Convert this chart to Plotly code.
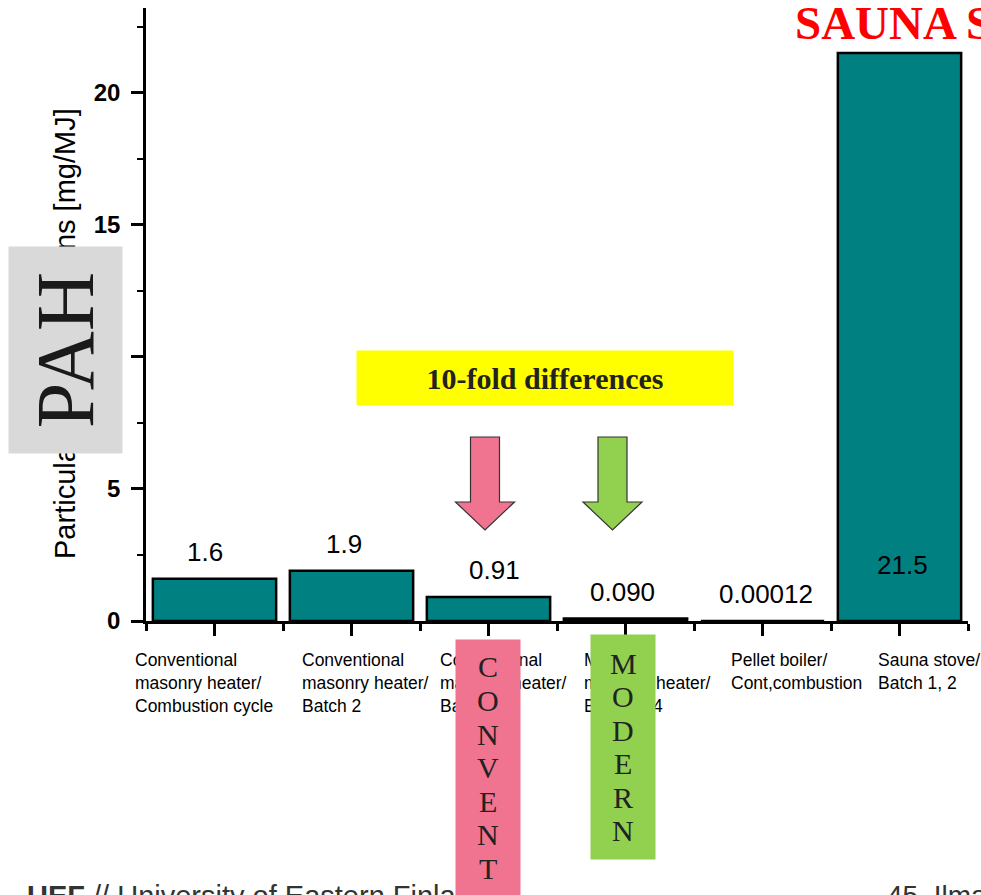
import plotly.graph_objects as go

# Emission data per appliance / combustion mode
categories = [
    "Conventional<br>masonry heater/<br>Combustion cycle",
    "Conventional<br>masonry heater/<br>Batch 2",
    "Conventional<br>masonry heater/<br>Batch 3",
    "Modern<br>masonry heater/<br>Batch 3, 4",
    "Pellet boiler/<br>Cont,combustion",
    "Sauna stove/<br>Batch 1, 2",
]
value_labels = ["1.6", "1.9", "0.91", "0.090", "0.00012", "21.5"]
values = [float(s) for s in value_labels]
y_ticks = [0, 5, 10, 15, 20]

# Layout geometry (pixels)
W, H = 981, 895
L, R, T, B = 146, 13, 8, 274
PW, PH = W - L - R, H - T - B

SANS = "Liberation Sans, Arial, sans-serif"
SERIF = "Liberation Serif, Times New Roman, serif"
TEAL = "#008080"
PINK = "#f07490"
GREEN = "#92d050"


def px(x):
    return (x - L) / PW


def py(y):
    return (H - B - y) / PH


idx = list(range(len(categories)))

fig = go.Figure(
    go.Bar(
        x=idx,
        y=values,
        width=0.9,
        marker=dict(color=TEAL, line=dict(color="black", width=2.5)),
        hoverinfo="skip",
    )
)

ann = []

# Value labels above bars (sauna stove value sits inside its bar)
label_dx = [-10, -8, 6, -3, 3, 3]
for i, (v, s) in enumerate(zip(values, value_labels)):
    inside = v > 20
    ann.append(dict(
        x=i, y=0 if inside else v, xref="x", yref="y",
        text=s, showarrow=False, xanchor="center", yanchor="middle",
        xshift=label_dx[i], yshift=56 if inside else 27,
        font=dict(family=SANS, size=26, color="black"),
    ))

# Category labels, left aligned under each tick
cat_dx = [-81.5, -51.5, -50.5, -43.5, -33.5, -23.5]
for i, c in enumerate(categories):
    ann.append(dict(
        x=i, y=py(648), xref="x", yref="paper",
        text=c, showarrow=False, xanchor="left", yanchor="top",
        align="left", xshift=cat_dx[i],
        font=dict(family=SANS, size=17.5, color="black"),
    ))

# Y axis title
ann.append(dict(
    x=px(65), y=py(334), xref="paper", yref="paper",
    text="Particulate PAH emissions [mg/MJ]", textangle=-90,
    showarrow=False, xanchor="center", yanchor="middle",
    font=dict(family=SANS, size=29, color="black"),
))

# Footer line
ann.append(dict(
    x=px(25), y=py(878), xref="paper", yref="paper",
    text="<b>UEF</b> // University of Eastern Finland", showarrow=False,
    xanchor="left", yanchor="top",
    font=dict(family=SANS, size=29, color="#333333"),
))
ann.append(dict(
    x=px(885), y=py(878), xref="paper", yref="paper",
    text="45  Ilma", showarrow=False,
    xanchor="left", yanchor="top",
    font=dict(family=SANS, size=28, color="#333333"),
))

# Red heading at top right
ann.append(dict(
    x=px(793), y=py(23), xref="paper", yref="paper",
    text="<b>SAUNA STOVE</b>", showarrow=False,
    xanchor="left", yanchor="middle",
    font=dict(family=SERIF, size=47, color="#ff0000"),
))

# Yellow callout
ann.append(dict(
    x=px(545), y=py(378), xref="paper", yref="paper",
    text="<b>10-fold differences</b>", showarrow=False,
    xanchor="center", yanchor="middle",
    width=376, height=54, borderpad=0, bgcolor="#ffff00",
    font=dict(family=SERIF, size=30, color="#222222"),
))

# PAH tag over the axis title
ann.append(dict(
    x=px(65.5), y=py(350.5), xref="paper", yref="paper",
    text="PAH", textangle=-90, showarrow=False,
    xanchor="center", yanchor="middle",
    width=206, height=113, borderpad=0, bgcolor="#d9d9d9",
    font=dict(family=SERIF, size=82, color="#1a1a1a"),
))

# Vertical coloured tags with stacked letters
tags = [
    ("CONVENT", PINK, 488, 640, 905, 667),
    ("MODERN", GREEN, 623, 635, 859, 663),
]
for word, col, cx, top, bot, first in tags:
    ann.append(dict(
        x=px(cx), y=py((top + bot) / 2), xref="paper", yref="paper",
        text=" ", showarrow=False, xanchor="center", yanchor="middle",
        width=64, height=bot - top, borderpad=0, bgcolor=col,
    ))
    for k, ch in enumerate(word):
        ann.append(dict(
            x=px(cx), y=py(first + 33.5 * k), xref="paper", yref="paper",
            text=ch, showarrow=False, xanchor="center", yanchor="middle",
            font=dict(family=SERIF, size=30, color="#222222"),
        ))

# Block arrows pointing down at the compared bars
shapes = []
for cx, col in [(485, PINK), (612.5, GREEN)]:
    pts = [
        (cx - 14.5, 437), (cx + 14.5, 437), (cx + 14.5, 502), (cx + 29.5, 502),
        (cx, 530), (cx - 29.5, 502), (cx - 14.5, 502),
    ]
    path = "M " + " L ".join(f"{px(a):.5f},{py(b):.5f}" for a, b in pts) + " Z"
    shapes.append(dict(
        type="path", path=path, xref="paper", yref="paper",
        fillcolor=col, line=dict(color="#333333", width=1.2), layer="above",
    ))

fig.update_layout(
    width=W, height=H,
    margin=dict(l=L, r=R, t=T, b=B, pad=0),
    paper_bgcolor="white", plot_bgcolor="white",
    showlegend=False,
    bargap=0.1,
    annotations=ann,
    shapes=shapes,
    xaxis=dict(
        range=[-0.5, 5.5], tickvals=idx, showticklabels=False,
        ticks="outside", ticklen=12, tickwidth=2.5, tickcolor="black",
        showline=True, linecolor="black", linewidth=2.5,
        showgrid=False, zeroline=False, fixedrange=True,
        minor=dict(tickvals=[i - 0.5 for i in range(len(categories) + 1)],
                   ticks="outside", ticklen=7, tickwidth=2.5, tickcolor="black"),
    ),
    yaxis=dict(
        range=[0, 23.2], tickvals=y_ticks,
        ticks="outside", ticklen=12, tickwidth=2.5, tickcolor="black",
        showline=True, linecolor="black", linewidth=2.5,
        showgrid=False, zeroline=False, fixedrange=True,
        tickfont=dict(family=SANS, size=24, color="black", weight="bold"),
        ticklabelstandoff=6,
        minor=dict(dtick=2.5, ticks="outside", ticklen=6, tickwidth=2,
                   tickcolor="black"),
    ),
)

fig.write_html("out.html")
